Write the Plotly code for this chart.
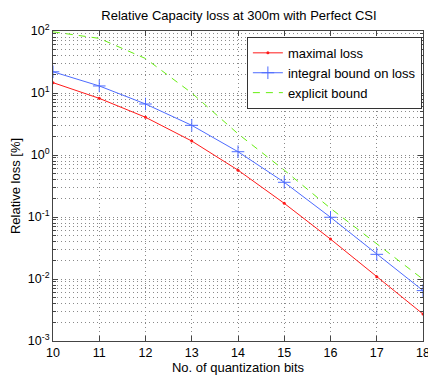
import plotly.graph_objects as go

bits = [10, 11, 12, 13, 14, 15, 16, 17, 18]

# (percent)
maximal_loss = [14.7, 8.2, 4.06, 1.68, 0.57, 0.166, 0.044, 0.0109, 0.00272]
integral_bound = [22.0, 13.0, 6.65, 3.01, 1.13, 0.363, 0.099, 0.025, 0.0065]
explicit_bound = [97.0, 76.0, 36.0, 10.0, 2.2, 0.57, 0.138, 0.037, 0.0099]

y_tick_vals = [1e-3, 1e-2, 1e-1, 1e0, 1e1, 1e2]
y_tick_text = ["10<sup>-3</sup>", "10<sup>-2</sup>", "10<sup>-1</sup>",
               "10<sup>0</sup>", "10<sup>1</sup>", "10<sup>2</sup>"]
# minor log ticks 2..9 in each decade
y_minor_vals = [m * 10.0 ** e for e in range(-3, 2) for m in range(2, 10)]

font = "Liberation Sans, Arial, sans-serif"
grid_col = "#8a8a8a"
grid_dash = "1px,3px"

# the page body adds an 8px offset, so the figure is 8px smaller than the window
W, H = 428, 371

fig = go.Figure()

fig.add_trace(go.Scatter(
    x=bits, y=maximal_loss, name="maximal loss",
    mode="lines+markers",
    line=dict(color="#ff1a1a", width=1),
    marker=dict(symbol="circle", size=3, color="#ff1a1a"),
))
fig.add_trace(go.Scatter(
    x=bits, y=integral_bound, name="integral bound on loss",
    mode="lines+markers",
    line=dict(color="#4d6bff", width=1),
    marker=dict(symbol="cross-thin", size=9, line=dict(color="#4d6bff", width=1)),
))
fig.add_trace(go.Scatter(
    x=bits, y=explicit_bound, name="explicit bound",
    mode="lines",
    line=dict(color="#66ee11", width=1, dash="7px,6px"),
))

fig.update_layout(
    width=W, height=H,
    margin=dict(l=45, r=13, t=23, b=38),
    paper_bgcolor="white", plot_bgcolor="white",
    font=dict(family=font, size=12, color="black"),
    title=dict(text="Relative Capacity loss at 300m with Perfect CSI",
               x=231 / W, xanchor="center", y=1 - 7 / H, yanchor="middle",
               font=dict(size=13)),
    legend=dict(x=0.997, xanchor="right", y=0.981, yanchor="top",
                bgcolor="white", bordercolor="#333", borderwidth=1,
                font=dict(size=13), tracegroupgap=0, itemwidth=30),
    showlegend=True,
)

fig.update_xaxes(
    range=[10, 18], dtick=1, automargin=False,
    showline=True, linecolor="#444", linewidth=1, mirror="ticks",
    ticks="inside", ticklen=5, tickcolor="#444",
    showgrid=True, gridcolor=grid_col, griddash=grid_dash, gridwidth=1,
    zeroline=False, tickfont=dict(size=12.5),
    title=dict(text="No. of quantization bits", standoff=1, font=dict(size=13)),
)
fig.update_yaxes(
    type="log", range=[-3, 2], automargin=False,
    tickmode="array", tickvals=y_tick_vals, ticktext=y_tick_text,
    showline=True, linecolor="#444", linewidth=1, mirror="ticks",
    ticks="inside", ticklen=5, tickcolor="#444",
    showgrid=True, gridcolor=grid_col, griddash=grid_dash, gridwidth=1,
    minor=dict(tickmode="array", tickvals=y_minor_vals,
               showgrid=True, gridcolor=grid_col, griddash=grid_dash,
               ticks="inside", ticklen=3, tickcolor="#444"),
    zeroline=False, tickfont=dict(size=12.5),
    title=dict(text="Relative loss [%]", standoff=8, font=dict(size=13)),
)

fig.write_html("out.html")
